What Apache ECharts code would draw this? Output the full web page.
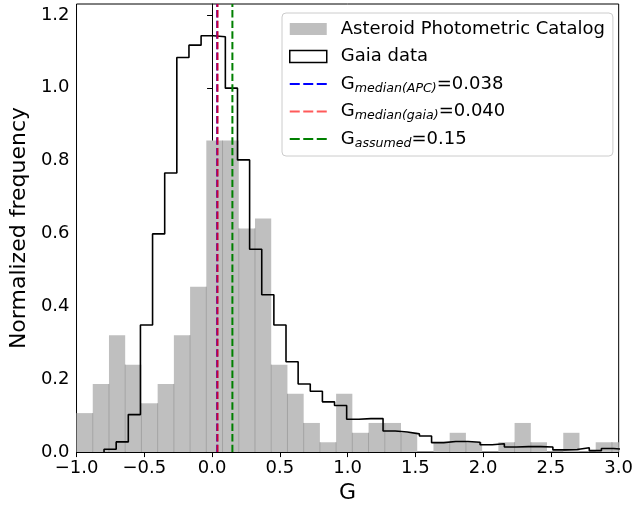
<!DOCTYPE html>
<html><head><meta charset="utf-8">
<script src="https://cdn.jsdelivr.net/npm/echarts@6/dist/echarts.min.js"></script>
<style>html,body{margin:0;padding:0;background:#fff}#c{width:636px;height:509px}</style>
</head><body><div id="c"></div>
<script>
// ---- data ----
const apcStart = -1.0;
const apcWidth = 0.1197;
const apcValues = [0.107,0.187,0.321,0.240,0.134,0.187,0.321,0.454,0.855,0.855,0.614,0.641,0.240,0.160,0.080,0.027,0.160,0.053,0.080,0.080,0.053,0,0.027,0.053,0.027,0,0.027,0.080,0.027,0,0.053,0,0.027,0.027];
const gaiaStart = -0.797;
const gaiaWidth = 0.0895;
const gaiaValues = [0.008,0.028,0.103,0.349,0.599,0.766,1.083,1.117,1.143,1.140,0.999,0.802,0.557,0.432,0.349,0.248,0.187,0.167,0.138,0.128,0.090,0.092,0.092,0.058,0.055,0.050,0.044,0.026,0.029,0.029,0.027,0.020,0.023,0.014,0.015,0.015,0.014,0.006,0.007,0.012,0.004,0.010,0.007];
const xTicks = [-1.0,-0.5,0.0,0.5,1.0,1.5,2.0,2.5,3.0];
const yTicks = [0.0,0.2,0.4,0.6,0.8,1.0,1.2];
const gMedianAPC = 0.038;
const gMedianGaia = 0.040;
const gAssumed = 0.15;
const xMin = -1.0, xMax = 3.0, yMin = 0, yMax = 1.23;

// ---- derived series data ----
const apcBins = apcValues.map((v, i) => [
  apcStart + i * apcWidth,
  apcStart + (i + 1) * apcWidth,
  v,
  i > 0 ? Math.min(v, apcValues[i - 1]) : 0
]);
const gaiaPts = [[gaiaStart, 0]];
gaiaValues.forEach((v, i) => {
  gaiaPts.push([gaiaStart + i * gaiaWidth, v]);
  gaiaPts.push([gaiaStart + (i + 1) * gaiaWidth, v]);
});
gaiaPts.push([gaiaStart + gaiaValues.length * gaiaWidth, 0]);

const FONT = 'DejaVu Sans';
const fmt = v => v.toFixed(1).replace('-', '\u2212');
const dash = [7.4, 3.2];
// dashed legend icon (bounds fixed by the two move-to points)
const dashIcon = 'path://M0,0M37,12M0,5h10v2h-10zM13.5,5h10v2h-10zM27,5h10v2h-10z';

const chart = echarts.init(document.getElementById('c'), null, {renderer: 'canvas'});
chart.setOption({
  animation: false,
  backgroundColor: '#fff',
  grid: {left: 75, right: 15, top: 4, bottom: 56, show: true, borderColor: '#000', borderWidth: 1, backgroundColor: 'transparent'},
  xAxis: {
    type: 'value', min: xMin, max: xMax, interval: 0.5,
    name: 'G', nameLocation: 'middle', nameGap: 27,
    nameTextStyle: {fontFamily: FONT, fontSize: 22, color: '#000'},
    axisLine: {show: true, lineStyle: {color: '#000', width: 1}},
    axisTick: {show: true, length: 5, lineStyle: {color: '#000', width: 1}},
    axisLabel: {fontFamily: FONT, fontSize: 18, color: '#000', margin: 7, formatter: fmt,
      customValues: xTicks},
    splitLine: {show: false}
  },
  yAxis: {
    type: 'value', min: yMin, max: yMax,
    name: 'Normalized frequency', nameLocation: 'middle', nameGap: 45,
    nameTextStyle: {fontFamily: FONT, fontSize: 22, color: '#000'},
    axisLine: {show: true, lineStyle: {color: '#000', width: 1}},
    axisTick: {show: true, length: 5, lineStyle: {color: '#000', width: 1}, customValues: yTicks},
    axisLabel: {fontFamily: FONT, fontSize: 18, color: '#000', margin: 7, formatter: fmt,
      customValues: yTicks},
    splitLine: {show: false}
  },
  legend: {
    orient: 'vertical', left: 282, top: 13,
    padding: [5, 8, 6, 7], itemGap: 5.5, itemWidth: 37, itemHeight: 12,
    backgroundColor: 'rgba(255,255,255,0.8)', borderColor: '#cccccc', borderWidth: 1, borderRadius: 4,
    textStyle: {fontFamily: FONT, fontSize: 18, color: '#000', lineHeight: 22,
      rich: {
        n: {fontFamily: FONT, fontSize: 18, color: '#000', lineHeight: 22, padding: [0, 0, 0, 9]},
        g: {fontFamily: FONT, fontSize: 18, color: '#000', lineHeight: 22, padding: [0, 0, 0, 9]},
        s: {fontFamily: FONT, fontSize: 12.6, fontStyle: 'italic', color: '#000', lineHeight: 12.6, verticalAlign: 'bottom'},
        e: {fontFamily: FONT, fontSize: 18, color: '#000', lineHeight: 22}
      }},
    formatter: function (name) {
      if (name === 'Asteroid Photometric Catalog' || name === 'Gaia data') return '{n|' + name + '}';
      const m = name.match(/^G_(.+?)=(.+)$/);
      return '{g|G}{s|' + m[1] + '}{e|=' + m[2] + '}';
    },
    data: [
      {name: 'Asteroid Photometric Catalog', icon: 'rect', itemStyle: {color: '#bfbfbf', borderWidth: 0}},
      {name: 'Gaia data', icon: 'rect', itemStyle: {color: '#ffffff', borderColor: '#000', borderWidth: 1.5}},
      {name: 'G_median(APC)=0.038', icon: dashIcon, itemStyle: {color: '#0000ff', borderWidth: 0}},
      {name: 'G_median(gaia)=0.040', icon: dashIcon, itemStyle: {color: '#ff5a5a', borderWidth: 0}},
      {name: 'G_assumed=0.15', icon: dashIcon, itemStyle: {color: '#008000', borderWidth: 0}}
    ]
  },
  series: [
    {
      name: 'Asteroid Photometric Catalog', type: 'custom', clip: true, z: 1,
      itemStyle: {color: '#bfbfbf'},
      encode: {x: [0, 1], y: 2},
      data: apcBins,
      renderItem: function (params, api) {
        const x0 = api.value(0), x1 = Math.min(api.value(1), xMax), h = api.value(2), seam = api.value(3);
        const p0 = api.coord([x0, 0]);
        const p1 = api.coord([x1, h]);
        const children = [];
        if (h > 0) children.push({type: 'rect', shape: {x: p0[0], y: p1[1], width: p1[0] - p0[0], height: p0[1] - p1[1]}, style: {fill: '#bfbfbf'}});
        if (seam > 0) {
          const s = api.coord([x0, seam]);
          children.push({type: 'line', shape: {x1: p0[0], y1: p0[1], x2: p0[0], y2: s[1]}, style: {stroke: '#a2a2a2', lineWidth: 1}});
        }
        return {type: 'group', children: children};
      }
    },
    {
      name: 'Gaia data', type: 'line', data: gaiaPts, showSymbol: false, symbol: 'none', clip: true, z: 3,
      lineStyle: {color: '#000', width: 1.6}, itemStyle: {color: '#000'}
    },
    {
      name: 'G_median(APC)=0.038', type: 'line', data: [[gMedianAPC, yMin], [gMedianAPC, yMax]], symbol: 'none', z: 4,
      lineStyle: {color: '#0000ff', width: 2, type: dash}, itemStyle: {color: '#0000ff'}
    },
    {
      name: 'G_median(gaia)=0.040', type: 'line', data: [[gMedianGaia, yMin], [gMedianGaia, yMax]], symbol: 'none', z: 6,
      lineStyle: {color: 'rgba(255,0,0,0.8)', width: 2, type: dash}, itemStyle: {color: 'rgba(255,0,0,0.8)'}
    },
    {
      name: 'G_assumed=0.15', type: 'line', data: [[gAssumed, yMin], [gAssumed, yMax]], symbol: 'none', z: 4,
      lineStyle: {color: '#008000', width: 2, type: dash}, itemStyle: {color: '#008000'}
    }
  ]
});
</script></body></html>
